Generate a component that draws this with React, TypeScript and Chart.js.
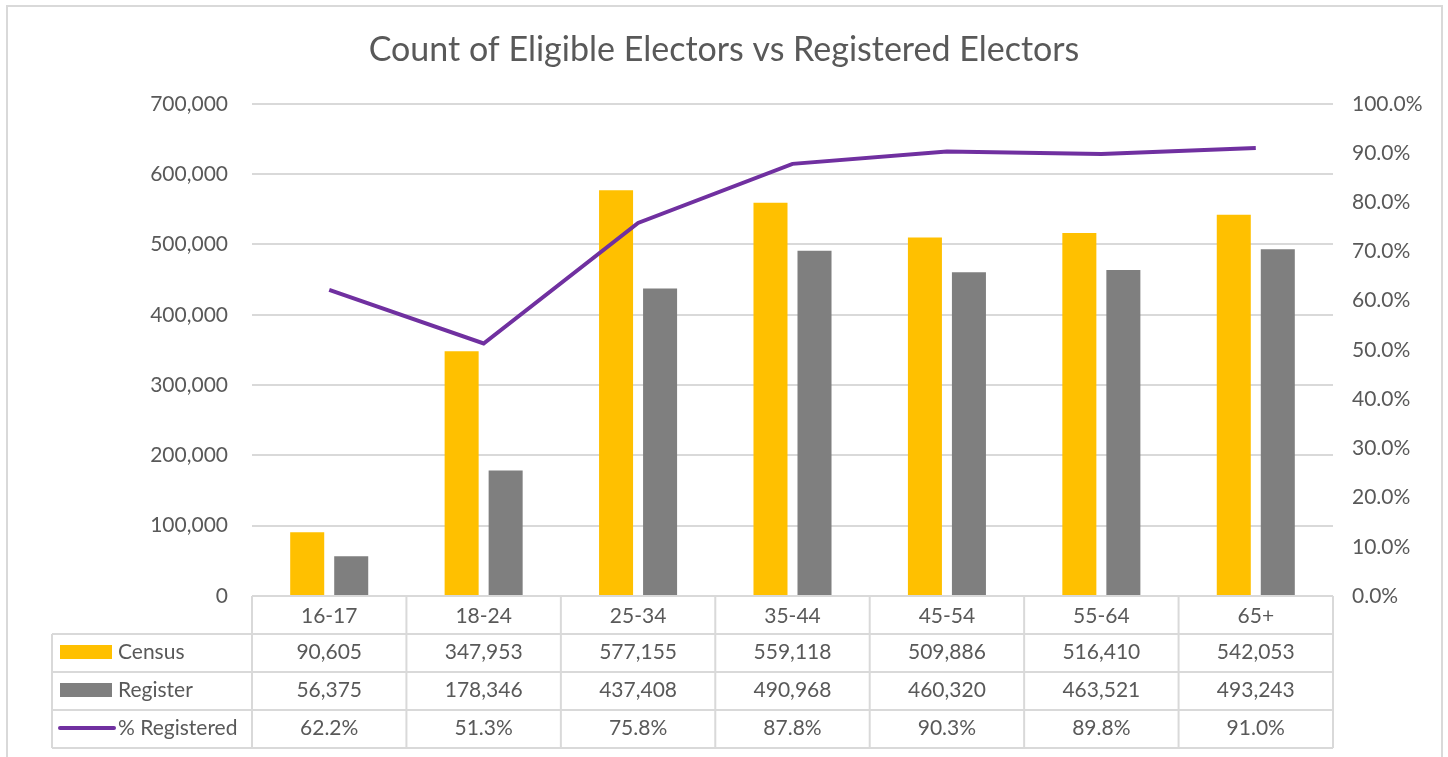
import React, { useEffect, useRef } from "react";
import { Chart, registerables } from "chart.js";

Chart.register(...registerables);

const categories = ["16-17", "18-24", "25-34", "35-44", "45-54", "55-64", "65+"];
const census = [90605, 347953, 577155, 559118, 509886, 516410, 542053];
const register = [56375, 178346, 437408, 490968, 460320, 463521, 493243];
const pctRegistered = [0.622, 0.513, 0.758, 0.878, 0.903, 0.898, 0.91];
const seriesNames = ["Census", "Register", "% Registered"];
const titleText = "Count of Eligible Electors vs Registered Electors";

const FONT = "Lato, 'Liberation Sans', sans-serif";
const TEXT = "#595959";
const GRID = "#d9d9d9";
const YELLOW = "#FFC000";
const GRAY = "#7F7F7F";
const PURPLE = "#7030A0";

const fmtNum = (v: number) => v.toLocaleString("en-US");
const fmtPct = (v: number) => (v * 100).toFixed(1) + "%";

const tablePlugin = {
  id: "dataTable",
  afterDraw(chart: any) {
    const ctx = chart.ctx;
    const area = chart.chartArea;
    const xs = chart.scales.x;
    const n = categories.length;
    const rowH = 38;
    const top = area.bottom;
    const left = area.left;
    const right = area.right;
    const labelLeft = 52;
    const colW = (right - left) / n;
    ctx.save();
    ctx.strokeStyle = GRID;
    ctx.lineWidth = 2;
    ctx.beginPath();
    ctx.moveTo(left, top);
    ctx.lineTo(right, top);
    for (let r = 1; r <= 4; r++) {
      const y = top + r * rowH;
      ctx.moveTo(labelLeft, y);
      ctx.lineTo(right, y);
    }
    for (let i = 0; i <= n; i++) {
      const x = left + i * colW;
      ctx.moveTo(x, top);
      ctx.lineTo(x, top + 4 * rowH);
    }
    ctx.moveTo(labelLeft, top + rowH);
    ctx.lineTo(labelLeft, top + 4 * rowH);
    ctx.stroke();

    // outer chart border
    ctx.beginPath();
    ctx.moveTo(7, 800);
    ctx.lineTo(7, 6);
    ctx.lineTo(1442, 6);
    ctx.lineTo(1442, 800);
    ctx.stroke();

    ctx.font = "21px " + FONT;
    ctx.fillStyle = TEXT;
    ctx.textBaseline = "middle";
    ctx.textAlign = "center";
    const rows = [census.map(fmtNum), register.map(fmtNum), pctRegistered.map(fmtPct)];
    rows.forEach((vals, r) => {
      const yc = top + (r + 1) * rowH + rowH / 2 - 1;
      vals.forEach((t, i) => {
        ctx.fillText(t, xs.getPixelForValue(i), yc);
      });
    });

    ctx.textAlign = "left";
    const keyX = 60;
    for (let r = 0; r < 3; r++) {
      const yc = top + (r + 1) * rowH + rowH / 2;
      if (r < 2) {
        ctx.fillStyle = r === 0 ? YELLOW : GRAY;
        ctx.fillRect(keyX, yc - 8, 52, 14);
      } else {
        ctx.strokeStyle = PURPLE;
        ctx.lineWidth = 4;
        ctx.lineCap = "round";
        ctx.beginPath();
        ctx.moveTo(keyX, yc - 1);
        ctx.lineTo(keyX + 54, yc - 1);
        ctx.stroke();
      }
      ctx.fillStyle = TEXT;
      ctx.fillText(seriesNames[r], 118, yc - 1);
    }
    ctx.restore();
  },
};

export default function App() {
  const ref = useRef<HTMLCanvasElement | null>(null);
  useEffect(() => {
    document.body.style.margin = "0";
    const chart = new Chart(ref.current as HTMLCanvasElement, {
      type: "bar",
      data: {
        labels: categories,
        datasets: [
          {
            type: "line",
            label: seriesNames[2],
            data: pctRegistered,
            yAxisID: "y1",
            borderColor: PURPLE,
            backgroundColor: PURPLE,
            borderWidth: 4,
            pointRadius: 0,
            tension: 0,
            order: 0,
          } as any,
          {
            label: seriesNames[0],
            data: census,
            backgroundColor: YELLOW,
            yAxisID: "y",
            categoryPercentage: 0.57,
            barPercentage: 0.773,
            order: 1,
          },
          {
            label: seriesNames[1],
            data: register,
            backgroundColor: GRAY,
            yAxisID: "y",
            categoryPercentage: 0.57,
            barPercentage: 0.773,
            order: 1,
          },
        ],
      },
      options: {
        responsive: false,
        animation: false,
        layout: { padding: { left: 15, right: 15, top: 0, bottom: 0 } },
        plugins: {
          legend: { display: false },
          tooltip: { enabled: false },
          title: {
            display: true,
            text: titleText,
            color: TEXT,
            font: { family: FONT, size: 34, weight: "normal" },
            padding: { top: 30, bottom: 33 },
          },
        },
        scales: {
          x: {
            grid: { display: false, drawTicks: false },
            border: { display: false },
            ticks: { color: TEXT, font: { family: FONT, size: 21 }, padding: 8 },
            afterFit: (s: any) => {
              s.height = 161;
            },
          },
          y: {
            position: "left",
            min: 0,
            max: 700000,
            ticks: {
              stepSize: 100000,
              color: TEXT,
              font: { family: FONT, size: 21 },
              padding: 24,
              callback: (v: any) => fmtNum(Number(v)),
            },
            grid: { color: GRID, lineWidth: 2, drawTicks: false },
            border: { display: false },
            afterFit: (s: any) => {
              s.width = 237;
            },
          },
          y1: {
            position: "right",
            min: 0,
            max: 1,
            ticks: {
              stepSize: 0.1,
              color: TEXT,
              font: { family: FONT, size: 21 },
              padding: 19,
              callback: (v: any) => fmtPct(Number(v)),
            },
            grid: { display: false, drawTicks: false },
            border: { display: false },
            afterFit: (s: any) => {
              s.width = 100;
            },
          },
        },
      },
      plugins: [tablePlugin],
    });
    return () => chart.destroy();
  }, []);
  return (
    <div style={{ width: 1448, height: 757 }}>
      <canvas ref={ref} width={1448} height={757} style={{ display: "block" }} />
    </div>
  );
}
